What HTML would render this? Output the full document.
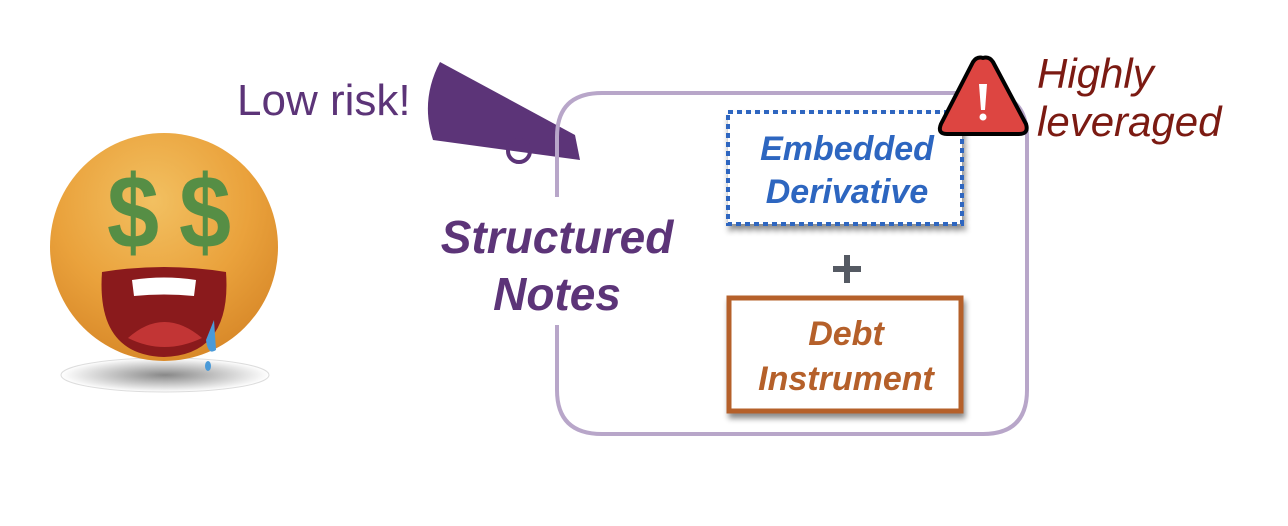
<!DOCTYPE html>
<html><head><meta charset="utf-8"><style>
html,body{margin:0;padding:0;background:#fff;}
svg{display:block;font-family:"Liberation Sans",sans-serif;}
</style></head><body>
<svg width="1288" height="526" viewBox="0 0 1288 526">
<defs>
<radialGradient id="face" cx="45%" cy="30%" r="70%">
<stop offset="0" stop-color="#f2c061"/><stop offset="0.6" stop-color="#eaa23c"/><stop offset="1" stop-color="#d98a2a"/>
</radialGradient>
<radialGradient id="shadow" cx="50%" cy="50%" r="50%">
<stop offset="0" stop-color="#888"/><stop offset="1" stop-color="#fff"/>
</radialGradient>
<filter id="ds" x="-10%" y="-10%" width="130%" height="130%"><feDropShadow dx="2" dy="5" stdDeviation="3" flood-color="#000" flood-opacity="0.45"/></filter>
</defs>
<ellipse cx="165" cy="375" rx="104" ry="17" fill="url(#shadow)" stroke="#ddd" stroke-width="1"/>
<circle cx="164" cy="247" r="114" fill="url(#face)"/>
<text x="133" y="248" font-size="104" font-weight="bold" fill="#568e45" text-anchor="middle" transform="translate(133 0) scale(0.9 1) translate(-133 0)">$</text>
<text x="205" y="248" font-size="104" font-weight="bold" fill="#568e45" text-anchor="middle" transform="translate(205 0) scale(0.9 1) translate(-205 0)">$</text>
<path d="M102 272 Q164 262 226 272 Q232 355 164 357 Q96 355 102 272Z" fill="#8a1a1c"/>
<path d="M132 280 Q164 275 196 280 L194 296 Q164 293 134 296Z" fill="#fff"/>
<path d="M128 338 Q164 306 202 338 Q164 356 128 338Z" fill="#c23535"/>
<path d="M214 320 L206 340 Q208 356 216 350Z" fill="#4a9ad8"/>
<ellipse cx="208" cy="366" rx="3" ry="5" fill="#4a9ad8"/>
<path d="M440 62 L575 135 L580 160 L433 140 Q420 100 440 62Z" fill="#5c3478"/>
<circle cx="519" cy="151" r="11" fill="none" stroke="#5c3478" stroke-width="4"/>
<text x="237" y="115" font-size="44" fill="#5c3478">Low risk!</text>
<path d="M557 197 L557 137 Q557 93 602 93 L983 93 Q1027 93 1027 137 L1027 390 Q1027 434 983 434 L602 434 Q557 434 557 390 L557 325" fill="none" stroke="#b8a6c9" stroke-width="4"/>
<text x="557" y="253" font-size="46" font-weight="bold" font-style="italic" fill="#5c3478" text-anchor="middle">Structured</text>
<text x="557" y="310" font-size="46" font-weight="bold" font-style="italic" fill="#5c3478" text-anchor="middle">Notes</text>
<rect x="728" y="112" width="234" height="112" fill="#fff" stroke="#2d66c0" stroke-width="4" stroke-dasharray="5 4" filter="url(#ds)"/>
<text x="847" y="160" font-size="34" font-weight="bold" font-style="italic" fill="#2d66c0" text-anchor="middle">Embedded</text>
<text x="847" y="203" font-size="34" font-weight="bold" font-style="italic" fill="#2d66c0" text-anchor="middle">Derivative</text>
<rect x="833" y="266" width="28" height="6" fill="#555a63"/>
<rect x="844" y="255" width="6" height="28" fill="#555a63"/>
<rect x="729" y="298" width="232" height="113" fill="#fff" stroke="#b5602a" stroke-width="5" filter="url(#ds)"/>
<text x="846" y="345" font-size="34" font-weight="bold" font-style="italic" fill="#b5602a" text-anchor="middle">Debt</text>
<text x="846" y="390" font-size="34" font-weight="bold" font-style="italic" fill="#b5602a" text-anchor="middle">Instrument</text>
<path d="M983 58 Q989 56 993 62 L1026 124 Q1029 134 1019 134 L947 134 Q937 134 941 124 L973 62 Q977 56 983 58Z" fill="#dd4541" stroke="#000" stroke-width="4" stroke-linejoin="round"/>
<path d="M979 84 L987 84 L985 110 L981 110Z" fill="#fff"/>
<circle cx="983" cy="117" r="3.5" fill="#fff"/>
<text x="1037" y="88" font-size="42" font-style="italic" fill="#7b1a12">Highly</text>
<text x="1037" y="136" font-size="42" font-style="italic" fill="#7b1a12">leveraged</text>
</svg>
</body></html>
